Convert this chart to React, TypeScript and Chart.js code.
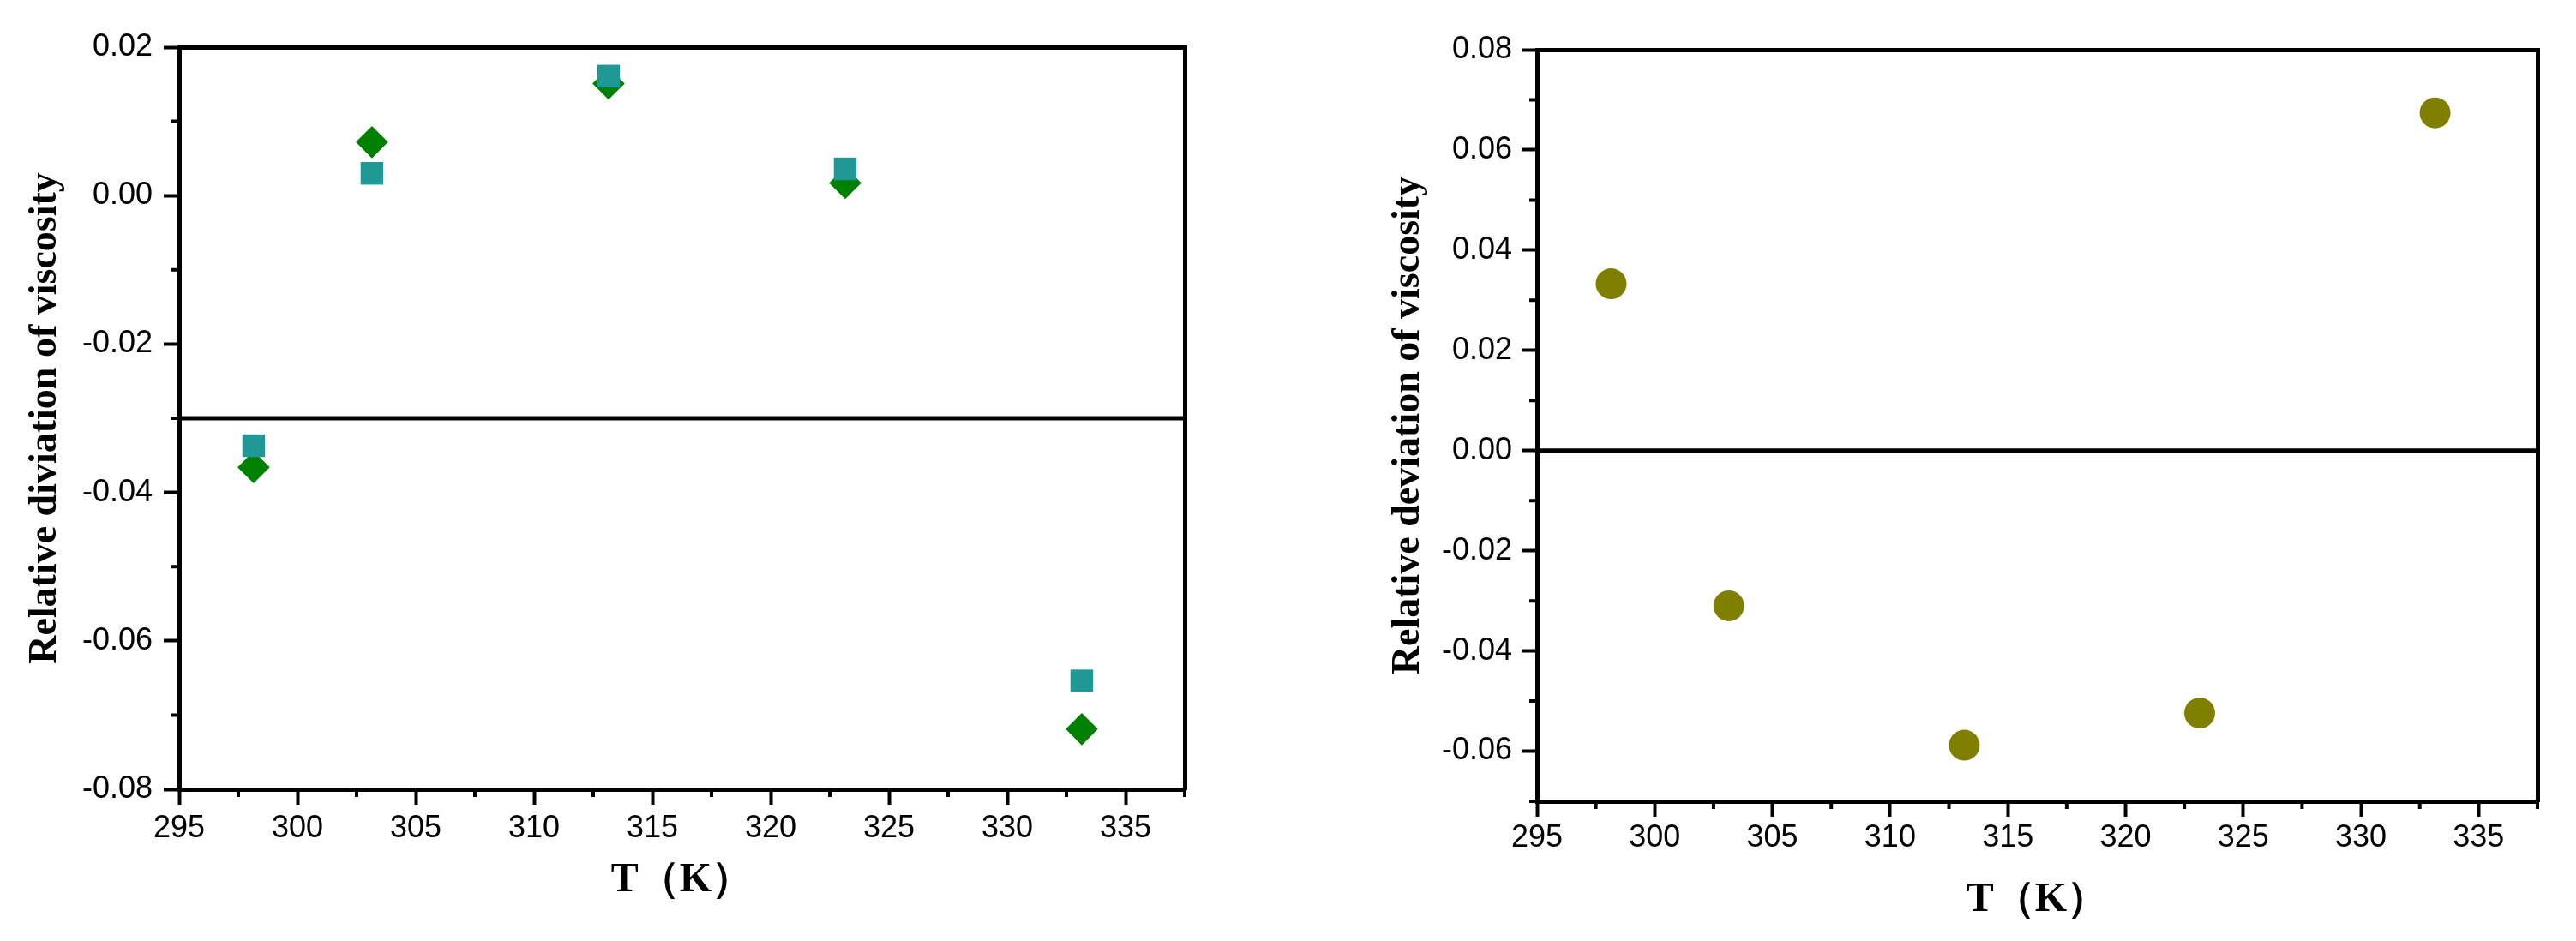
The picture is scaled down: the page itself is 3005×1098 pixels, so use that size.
import React, { useEffect, useRef } from "react";
import { Chart, registerables } from "chart.js";

Chart.register(...registerables);

// ---------- data ----------
const temperatures = [298.15, 303.15, 313.15, 323.15, 333.15];
const leftDiamondValues = [-0.0366, 0.0072, 0.0151, 0.0017, -0.0719];
const leftSquareValues = [-0.0337, 0.003, 0.0161, 0.0036, -0.0654];
const rightCircleValues = [0.0333, -0.031, -0.0588, -0.0524, 0.0674];

const xMin = 295;
const xMax = 337.5;
const xTicks = [295, 300, 305, 310, 315, 320, 325, 330, 335];
const xMinorTicks = [297.5, 302.5, 307.5, 312.5, 317.5, 322.5, 327.5, 332.5, 337.5];

const leftYMin = -0.08;
const leftYMax = 0.02;
const leftYTicks = [-0.08, -0.06, -0.04, -0.02, 0.0, 0.02];
const leftYMinorTicks = [-0.07, -0.05, -0.03, -0.01, 0.01];
const leftRefLineY = -0.03;

const rightYMin = -0.07;
const rightYMax = 0.08;
const rightYTicks = [-0.06, -0.04, -0.02, 0.0, 0.02, 0.04, 0.06, 0.08];
const rightYMinorTicks = [-0.07, -0.05, -0.03, -0.01, 0.01, 0.03, 0.05, 0.07];
const rightRefLineY = 0;

const xTitle = "T（K）";
const leftYTitle = "Relative diviation of viscosity";
const rightYTitle = "Relative deviation of viscosity";

// ---------- styles ----------
const tickFont = { family: '"Liberation Sans", Arial, sans-serif', size: 36 };
const titleFamily = '"Times New Roman", "Liberation Serif", serif';
const AXIS_W = 5;

function makeMinorPlugin(xMinor: number[], yMinor: number[], len: number) {
  return {
    id: "minorTicks",
    afterDraw(chart: any) {
      const { ctx, chartArea } = chart;
      const xs = chart.scales.x;
      const ys = chart.scales.y;
      ctx.save();
      ctx.strokeStyle = "#000";
      ctx.lineWidth = 4;
      ctx.lineCap = "butt";
      ctx.beginPath();
      for (const v of xMinor) {
        const px = xs.getPixelForValue(v);
        ctx.moveTo(px, chartArea.bottom - 2);
        ctx.lineTo(px, chartArea.bottom + len);
      }
      for (const v of yMinor) {
        const py = ys.getPixelForValue(v);
        ctx.moveTo(chartArea.left + 2, py);
        ctx.lineTo(chartArea.left - len, py);
      }
      ctx.stroke();
      ctx.restore();
    },
  };
}

type PanelOpts = {
  yMin: number;
  yMax: number;
  yTicks: number[];
  yMinor: number[];
  yTitle: string;
  padTop: number;
  padRight: number;
  yWidth: number;
  xHeight: number;
  yTitlePad: number;
  xTitlePad: number;
  xLabelPad: number;
  yLabelPad: number;
};

function buildScales(o: PanelOpts) {
  const border = { display: true, color: "#000", width: AXIS_W };
  return {
    x: {
      type: "linear",
      position: "bottom",
      min: xMin,
      max: xMax,
      afterBuildTicks: (s: any) => {
        s.ticks = xTicks.map((v) => ({ value: v }));
      },
      ticks: {
        font: tickFont,
        color: "#000",
        padding: o.xLabelPad,
        autoSkip: false,
        maxRotation: 0,
        callback: (v: any) => String(v),
      },
      grid: { drawOnChartArea: false, tickLength: 18, tickWidth: 4, tickColor: "#000" },
      border,
      title: {
        display: true,
        text: xTitle,
        color: "#000",
        font: { family: titleFamily, size: 48, weight: "bold" },
        padding: { top: 0, bottom: o.xTitlePad },
      },
      afterFit: (s: any) => {
        s.height = o.xHeight;
      },
    },
    y: {
      type: "linear",
      position: "left",
      min: o.yMin,
      max: o.yMax,
      afterBuildTicks: (s: any) => {
        s.ticks = o.yTicks.map((v) => ({ value: v }));
      },
      ticks: {
        font: tickFont,
        color: "#000",
        padding: o.yLabelPad,
        autoSkip: false,
        callback: (v: any) => (Math.abs(v) < 1e-9 ? 0 : Number(v)).toFixed(2),
      },
      grid: { drawOnChartArea: false, tickLength: 18, tickWidth: 4, tickColor: "#000" },
      border,
      title: {
        display: true,
        text: o.yTitle,
        color: "#000",
        font: { family: titleFamily, size: 46, weight: "bold" },
        padding: { top: o.yTitlePad, bottom: 0 },
      },
      afterFit: (s: any) => {
        s.width = o.yWidth;
      },
    },
    x2: {
      type: "linear",
      position: "top",
      min: xMin,
      max: xMax,
      ticks: { display: false },
      grid: { display: false, drawTicks: false },
      border,
      afterFit: (s: any) => {
        s.height = 0;
      },
    },
    y2: {
      type: "linear",
      position: "right",
      min: o.yMin,
      max: o.yMax,
      ticks: { display: false },
      grid: { display: false, drawTicks: false },
      border,
      afterFit: (s: any) => {
        s.width = 0;
      },
    },
  };
}

function refLine(y: number) {
  return {
    type: "line",
    label: "ref",
    data: [
      { x: xMin, y },
      { x: xMax, y },
    ],
    borderColor: "#000",
    borderWidth: AXIS_W,
    pointRadius: 0,
    fill: false,
    showLine: true,
  };
}

const pts = (vals: number[]) => temperatures.map((t, i) => ({ x: t, y: vals[i] }));

export default function App() {
  const leftRef = useRef<HTMLCanvasElement | null>(null);
  const rightRef = useRef<HTMLCanvasElement | null>(null);

  useEffect(() => {
    const leftOpts: PanelOpts = {
      yMin: leftYMin,
      yMax: leftYMax,
      yTicks: leftYTicks,
      yMinor: leftYMinorTicks,
      yTitle: leftYTitle,
      padTop: 55,
      padRight: 118,
      yWidth: 209,
      xHeight: 177,
      yTitlePad: 26,
      xTitlePad: 42,
      xLabelPad: 6,
      yLabelPad: 13,
    };
    const rightOpts: PanelOpts = {
      yMin: rightYMin,
      yMax: rightYMax,
      yTicks: rightYTicks,
      yMinor: rightYMinorTicks,
      yTitle: rightYTitle,
      padTop: 58,
      padRight: 45,
      yWidth: 293,
      xHeight: 163,
      yTitlePad: 116,
      xTitlePad: 19,
      xLabelPad: 3,
      yLabelPad: 11,
    };

    const common = (o: PanelOpts) => ({
      responsive: false,
      maintainAspectRatio: false,
      animation: false,
      devicePixelRatio: 1,
      layout: { padding: { left: 0, top: o.padTop, right: o.padRight, bottom: 0 } },
      plugins: { legend: { display: false }, tooltip: { enabled: false } },
      scales: buildScales(o),
    });

    const left = new Chart(leftRef.current as HTMLCanvasElement, {
      type: "scatter",
      data: {
        datasets: [
          {
            label: "square",
            data: pts(leftSquareValues),
            pointStyle: "rect",
            pointRadius: 18.7,
            pointBorderWidth: 0,
            backgroundColor: "#209896",
            borderColor: "#209896",
          },
          {
            label: "diamond",
            data: pts(leftDiamondValues),
            pointStyle: "rectRot",
            pointRadius: 18.8,
            pointBorderWidth: 0,
            backgroundColor: "#008000",
            borderColor: "#008000",
          },
          refLine(leftRefLineY) as any,
        ],
      },
      options: common(leftOpts) as any,
      plugins: [makeMinorPlugin(xMinorTicks, leftYMinorTicks, 9)],
    });

    const right = new Chart(rightRef.current as HTMLCanvasElement, {
      type: "scatter",
      data: {
        datasets: [
          {
            label: "circle",
            data: pts(rightCircleValues),
            pointStyle: "circle",
            pointRadius: 18,
            pointBorderWidth: 0,
            backgroundColor: "#808000",
            borderColor: "#808000",
          },
          refLine(rightRefLineY) as any,
        ],
      },
      options: common(rightOpts) as any,
      plugins: [makeMinorPlugin(xMinorTicks, rightYMinorTicks, 9)],
    });

    return () => {
      left.destroy();
      right.destroy();
    };
  }, []);

  return (
    <div
      style={{
        position: "absolute",
        left: 0,
        top: 0,
        width: 3005,
        height: 1098,
        background: "#fff",
        overflow: "hidden",
      }}
    >
      <canvas
        ref={leftRef}
        width={1500}
        height={1098}
        style={{ position: "absolute", left: 0, top: 0, width: 1500, height: 1098 }}
      />
      <canvas
        ref={rightRef}
        width={1505}
        height={1098}
        style={{ position: "absolute", left: 1500, top: 0, width: 1505, height: 1098 }}
      />
    </div>
  );
}
